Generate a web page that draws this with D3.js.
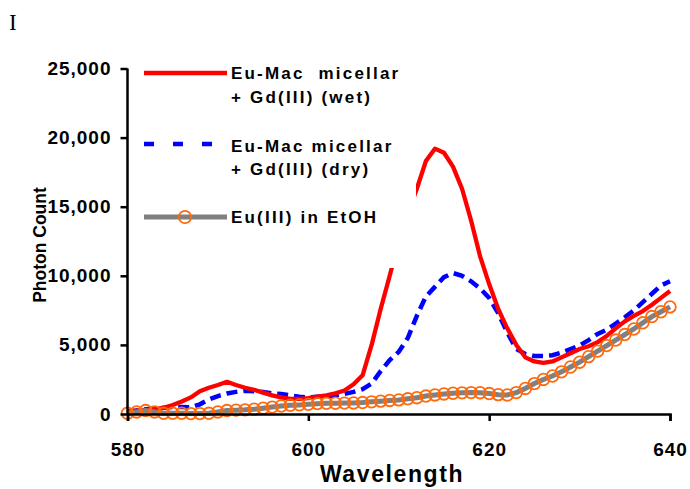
<!DOCTYPE html>
<html>
<head>
<meta charset="utf-8">
<script src="https://cdn.jsdelivr.net/npm/d3@7"></script>
<style>
  html, body { margin: 0; padding: 0; background: #fff; }
  svg { display: block; }
  text { font-family: Arial, "Liberation Sans", sans-serif; }
</style>
</head>
<body>
<svg id="chart" width="690" height="489"></svg>
<script>
// ---- data ----
const wavelengths = d3.range(580, 641); // 580..640 nm, 1 nm steps
const wetValues = [200,250,300,350,450,650,900,1200,1650,1900,2100,2330,2100,1900,1750,1550,1350,1200,1100,1100,
  1150,1250,1350,1500,1700,2150,2800,5000,7600,10000,12500,14500,16300,18300,19200,18900,17900,16300,14000,11400,
  9400,7600,6200,5000,4100,3800,3700,3800,4100,4400,4700,4900,5200,5650,6200,6700,7100,7450,7900,8400,8900];
const dryValues = [150,250,350,400,450,500,500,480,700,1050,1300,1480,1600,1680,1650,1600,1500,1450,1350,1250,
  1200,1250,1300,1350,1450,1600,1800,2200,3100,3900,4500,5500,7100,8500,9200,9900,10200,10000,9600,9080,
  8400,7300,5900,4700,4350,4200,4200,4250,4450,4700,4950,5350,5800,6100,6550,7000,7500,8100,8700,9300,9600];
const etohValues = [50,150,250,150,50,50,50,30,30,50,150,250,280,300,350,420,500,580,630,660,
  700,750,770,780,790,800,830,880,930,980,1020,1100,1180,1300,1380,1450,1500,1530,1550,1540,
  1480,1400,1380,1550,1850,2200,2500,2750,3050,3400,3750,4150,4550,4950,5350,5750,6150,6600,7050,7400,7750];
const xTicks = [580, 600, 620, 640];
const yTicks = [0, 5000, 10000, 15000, 20000, 25000];
const seriesNames = ["Eu-Mac\u00a0\u00a0micellar", "Eu-Mac micellar", "Eu(III) in EtOH"];
const seriesSub = ["+ Gd(III) (wet)", "+ Gd(III) (dry)", ""];

// ---- scales ----
const svg = d3.select("#chart");
const x = d3.scaleLinear().domain([580, 640]).range([127.5, 670]);
const y = d3.scaleLinear().domain([0, 25000]).range([414, 68.5]);

const fmt = d3.format(",");

// title marker
svg.append("text").attr("x", 9).attr("y", 30)
  .style("font-family", "'Liberation Serif', 'Times New Roman', serif")
  .style("font-size", "23px").text("I");

// ---- series ----
const mk = vals => wavelengths.map((w, i) => [w, vals[i]]);
const line = d3.line().x(d => x(d[0])).y(d => y(d[1]));

svg.append("path").datum(mk(dryValues)).attr("d", line)
  .attr("fill", "none").attr("stroke", "#0000FF").attr("stroke-width", 4.5)
  .attr("stroke-dasharray", "11,6");

svg.append("path").datum(mk(wetValues)).attr("d", line)
  .attr("fill", "none").attr("stroke", "#FF0000").attr("stroke-width", 4.3)
  .attr("stroke-linejoin", "round");

svg.append("path").datum(mk(etohValues)).attr("d", line)
  .attr("fill", "none").attr("stroke", "#808080").attr("stroke-width", 5);

svg.append("g").selectAll("circle").data(mk(etohValues)).join("circle")
  .attr("cx", d => x(d[0])).attr("cy", d => y(d[1])).attr("r", 5.8)
  .attr("fill", "none").attr("stroke", "#FF6A0D").attr("stroke-width", 1.8);

// ---- axes ----
const yAxis = svg.append("g").attr("transform", "translate(127.5,0)")
  .call(d3.axisLeft(y).tickValues(yTicks).tickFormat(fmt).tickSize(7).tickPadding(9));
const xAxis = svg.append("g").attr("transform", "translate(0,414)")
  .call(d3.axisBottom(x).tickValues(xTicks).tickSize(7).tickPadding(22));
[yAxis, xAxis].forEach(g => {
  g.select(".domain").attr("stroke", "#000").attr("stroke-width", 2.5);
  g.selectAll(".tick line").attr("stroke", "#000").attr("stroke-width", 2.5);
  g.selectAll(".tick text").attr("fill", "#000")
    .style("font-size", "19px").style("font-weight", "bold")
    .style("font-family", "Arial, 'Liberation Sans', sans-serif")
    .style("letter-spacing", "1px");
});
yAxis.select(".domain").attr("d", "M0,414V68.5");

// axis titles
svg.append("text").attr("x", 392).attr("y", 482).attr("text-anchor", "middle")
  .style("font-size", "23px").style("font-weight", "bold").style("letter-spacing", "1.6px")
  .text("Wavelength");
svg.append("text").attr("transform", "translate(46,245) rotate(-90)").attr("text-anchor", "middle")
  .style("font-size", "17.5px").style("font-weight", "bold")
  .text("Photon Count");

// ---- legend (white box covering plot) ----
const legend = svg.append("g");
legend.append("rect").attr("x", 140).attr("y", 58).attr("width", 276).attr("height", 210).attr("fill", "#fff");
const lx0 = 144, lx1 = 227;
const rows = [73, 144, 217];
legend.append("line").attr("x1", lx0).attr("x2", lx1).attr("y1", rows[0]).attr("y2", rows[0])
  .attr("stroke", "#FF0000").attr("stroke-width", 4.5);
legend.append("line").attr("x1", lx0).attr("x2", lx1).attr("y1", rows[1]).attr("y2", rows[1])
  .attr("stroke", "#0000FF").attr("stroke-width", 4.5).attr("stroke-dasharray", "10,19");
legend.append("line").attr("x1", lx0).attr("x2", lx1).attr("y1", rows[2]).attr("y2", rows[2])
  .attr("stroke", "#808080").attr("stroke-width", 5);
legend.append("circle").attr("cx", 185).attr("cy", rows[2]).attr("r", 6.2)
  .attr("fill", "none").attr("stroke", "#FF6A0D").attr("stroke-width", 1.8);

const textStyle = t => t.style("font-size", "17px").style("font-weight", "bold")
  .style("letter-spacing", "2.2px").attr("fill", "#000");
[[79, 103], [152, 175], [223, null]].forEach((b, i) => {
  textStyle(legend.append("text").attr("x", 231).attr("y", b[0]).text(seriesNames[i]));
  if (b[1] !== null) textStyle(legend.append("text").attr("x", 231).attr("y", b[1]).text(seriesSub[i]));
});
</script>
</body>
</html>
